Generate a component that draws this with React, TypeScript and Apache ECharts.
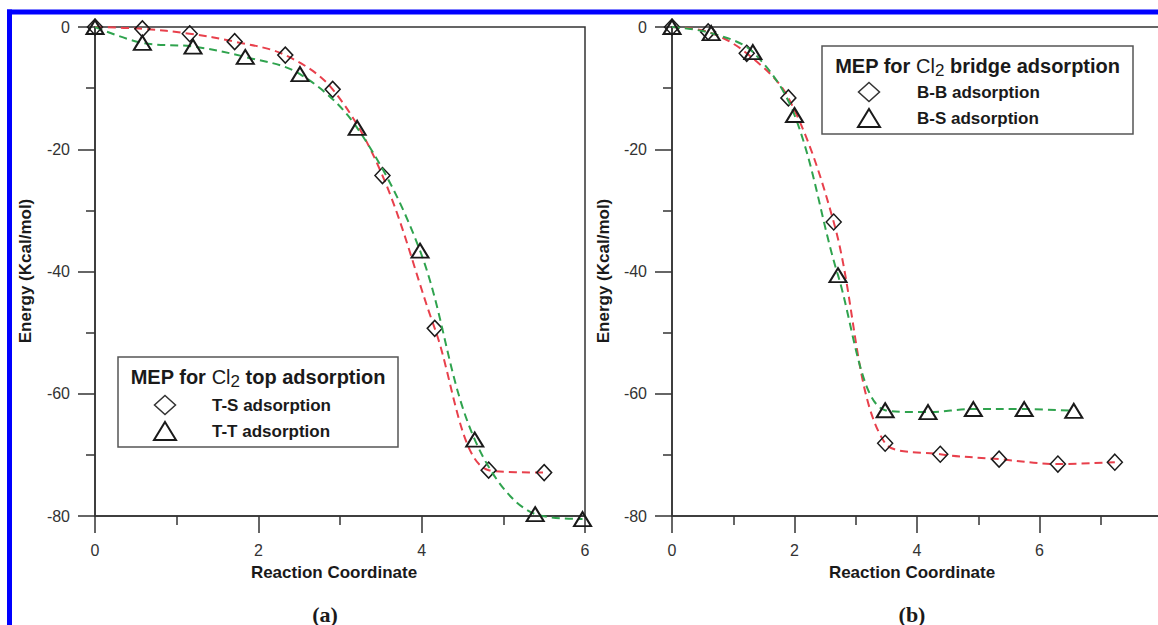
import React, { useEffect, useRef } from "react";
import * as echarts from "echarts";

// Panel (a): MEP for Cl2 top adsorption
const tsX = [0, 0.58, 1.16, 1.71, 2.33, 2.91, 3.52, 4.16, 4.82, 5.5];
const tsY = [0, -0.3, -1.1, -2.4, -4.6, -10.2, -24.3, -49.3, -72.5, -72.9];
const ttX = [0, 0.58, 1.2, 1.84, 2.51, 3.21, 3.98, 4.65, 5.39, 5.97];
const ttY = [0, -2.6, -3.2, -4.9, -7.7, -16.5, -36.6, -67.5, -79.7, -80.5];

// Panel (b): MEP for Cl2 bridge adsorption
const bbX = [0, 0.59, 1.22, 1.9, 2.64, 3.48, 4.38, 5.34, 6.3, 7.23];
const bbY = [0, -0.8, -4.3, -11.6, -31.9, -68.1, -69.9, -70.7, -71.5, -71.2];
const bsX = [0, 0.64, 1.32, 2.0, 2.71, 3.48, 4.18, 4.92, 5.75, 6.56];
const bsY = [0, -1.0, -4.1, -14.4, -40.6, -62.7, -63.0, -62.5, -62.5, -62.8];

const seriesNames = ["T-S adsorption", "T-T adsorption", "B-B adsorption", "B-S adsorption"];
const legendTitles = ["top adsorption", "bridge adsorption"];
const axisXName = "Reaction Coordinate";
const axisYName = "Energy (Kcal/mol)";
const panelLabels = ["(a)", "(b)"];

const SANS = '"Liberation Sans", Arial, Helvetica, sans-serif';
const SERIF = '"Liberation Serif", "Times New Roman", serif';
const AX = "#333";
const RED = "#e8404c";
const GREEN = "#2fa34e";

const zip = (xs: number[], ys: number[]) => xs.map((x, i) => [x, ys[i]]);

const axisCommon = {
  type: "value" as const,
  axisLine: { show: true, onZero: false, lineStyle: { color: AX, width: 1.5 } },
  axisTick: { show: true, inside: false, length: 17, lineStyle: { color: AX, width: 1.5 } },
  minorTick: { show: true, splitNumber: 2, length: 9, lineStyle: { color: AX, width: 1.5 } },
  splitLine: { show: false },
  minorSplitLine: { show: false },
};

function xAxis(gridIndex: number, max: number, showMax: boolean) {
  return {
    ...axisCommon,
    gridIndex,
    min: 0,
    max,
    interval: 2,
    position: "bottom",
    axisLabel: { color: AX, fontSize: 16, fontFamily: SANS, margin: 26, showMaxLabel: showMax },
  };
}

function yAxis(gridIndex: number) {
  return {
    ...axisCommon,
    gridIndex,
    min: -80,
    max: 0,
    interval: 20,
    position: "left",
    axisLabel: { color: AX, fontSize: 16, fontFamily: SANS, margin: 25 },
  };
}

function lineSeries(
  name: string,
  idx: number,
  data: number[][],
  symbol: string,
  color: string
) {
  const tri = symbol === "triangle";
  return {
    name,
    type: "line",
    xAxisIndex: idx,
    yAxisIndex: idx,
    data,
    smooth: 0.35,
    clip: false,
    symbol,
    symbolSize: tri ? [17, 14] : [15, 16],
    showAllSymbol: true,
    itemStyle: { color: "rgba(255,255,255,0)", borderColor: "#1a1a1a", borderWidth: tri ? 2 : 1.5 },
    lineStyle: { color, width: 2, type: [8, 5] },
    z: tri ? 3 : 2,
  };
}

function txt(
  x: number,
  y: number,
  text: string,
  opts: { size: number; weight?: string; family?: string; align?: string; rotation?: number; fill?: string; rich?: any }
) {
  return {
    type: "text",
    x,
    y,
    rotation: opts.rotation || 0,
    z: 50,
    style: {
      text,
      fontSize: opts.size,
      fontWeight: opts.weight || "normal",
      fontFamily: opts.family || SANS,
      fill: opts.fill || "#1a1a1a",
      textAlign: opts.align || "center",
      align: opts.align || "center",
      textVerticalAlign: "middle",
      verticalAlign: "middle",
      rich: opts.rich,
    },
  };
}

function diamond(cx: number, cy: number, w: number, h: number) {
  return {
    type: "polygon",
    z: 50,
    shape: { points: [[cx, cy - h / 2], [cx + w / 2, cy], [cx, cy + h / 2], [cx - w / 2, cy]] },
    style: { fill: "none", stroke: "#333", lineWidth: 1.5 },
  };
}

function triangle(cx: number, cy: number, w: number, h: number) {
  return {
    type: "polygon",
    z: 50,
    shape: { points: [[cx, cy - h / 2], [cx + w / 2, cy + h / 2], [cx - w / 2, cy + h / 2]] },
    style: { fill: "none", stroke: "#1a1a1a", lineWidth: 2 },
  };
}

const richTitle = {
  c: { fontSize: 20, fontWeight: "normal", fontFamily: SANS, fill: "#1a1a1a" },
  s: { fontSize: 17, fontWeight: "normal", fontFamily: SANS, fill: "#1a1a1a", padding: [8, 0, 0, 0] },
};

function legendBlock(
  bx: number,
  by: number,
  bw: number,
  bh: number,
  title: string,
  names: string[],
  symX: number,
  textX: number,
  titleY: number,
  rowY: number[]
) {
  return [
    {
      type: "rect",
      z: 40,
      shape: { x: bx, y: by, width: bw, height: bh },
      style: { fill: "#fff", stroke: "#555", lineWidth: 1.5 },
    },
    txt(bx + bw / 2, titleY, "MEP for {c|Cl}{s|2} " + title, { size: 20, weight: "bold", rich: richTitle }),
    diamond(symX, rowY[0], 21, 19),
    triangle(symX, rowY[1], 22, 18),
    txt(textX, rowY[0], names[0], { size: 17, weight: "bold", align: "left" }),
    txt(textX, rowY[1], names[1], { size: 17, weight: "bold", align: "left" }),
  ];
}

export default function App() {
  const ref = useRef<HTMLDivElement>(null);

  useEffect(() => {
    if (!ref.current) return;
    const chart = echarts.init(ref.current, null, { renderer: "svg" });

    const graphic: any[] = [
      // blue frame
      { type: "rect", z: 100, shape: { x: 7, y: 9.5, width: 1160, height: 5 }, style: { fill: "#0000ff" } },
      { type: "rect", z: 100, shape: { x: 7, y: 9.5, width: 5, height: 630 }, style: { fill: "#0000ff" } },
      // axis titles
      txt(25, 271, axisYName, { size: 17, weight: "bold", rotation: Math.PI / 2 }),
      txt(603, 271, axisYName, { size: 17, weight: "bold", rotation: Math.PI / 2 }),
      txt(334, 572, axisXName, { size: 17, weight: "bold" }),
      txt(912, 572, axisXName, { size: 17, weight: "bold" }),
      // panel labels
      txt(325, 614, panelLabels[0], { size: 22, weight: "bold", family: SERIF }),
      txt(912, 614, panelLabels[1], { size: 22, weight: "bold", family: SERIF }),
      ...legendBlock(118, 357, 280, 90, legendTitles[0], [seriesNames[0], seriesNames[1]], 165, 212, 377, [405, 431]),
      ...legendBlock(822, 46, 311, 88, legendTitles[1], [seriesNames[2], seriesNames[3]], 869, 917, 66, [92, 118]),
    ];

    chart.setOption({
      animation: false,
      backgroundColor: "#fff",
      grid: [
        { left: 95, top: 27, width: 490, height: 489, show: true, borderColor: AX, borderWidth: 1.5, backgroundColor: "transparent", containLabel: false, outerBoundsMode: "none" },
        { left: 672, top: 27, width: 490, height: 489, show: true, borderColor: AX, borderWidth: 1.5, backgroundColor: "transparent", containLabel: false, outerBoundsMode: "none" },
      ],
      xAxis: [xAxis(0, 6, true), xAxis(1, 8, false)],
      yAxis: [yAxis(0), yAxis(1)],
      series: [
        lineSeries(seriesNames[0], 0, zip(tsX, tsY), "diamond", RED),
        lineSeries(seriesNames[1], 0, zip(ttX, ttY), "triangle", GREEN),
        lineSeries(seriesNames[2], 1, zip(bbX, bbY), "diamond", RED),
        lineSeries(seriesNames[3], 1, zip(bsX, bsY), "triangle", GREEN),
      ],
      graphic,
    });

    return () => chart.dispose();
  }, []);

  return (
    <div
      ref={ref}
      style={{ position: "fixed", left: 0, top: 0, width: 1158, height: 625, background: "#fff" }}
    />
  );
}
